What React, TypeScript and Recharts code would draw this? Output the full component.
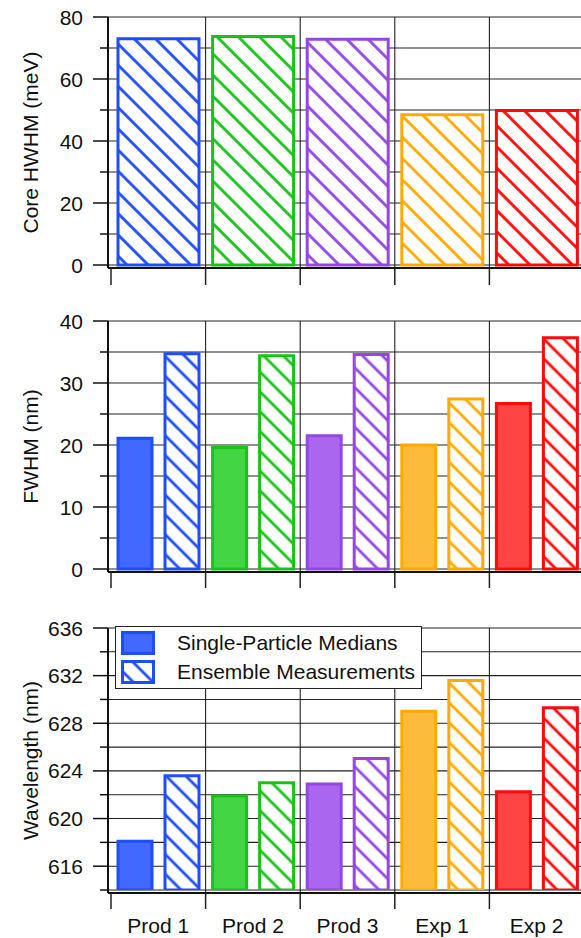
import { BarChart, Bar, Cell, XAxis, YAxis, CartesianGrid, Legend } from "recharts";

const categories = ["Prod 1", "Prod 2", "Prod 3", "Exp 1", "Exp 2"];
const seriesNames = ["Single-Particle Medians", "Ensemble Measurements"];

// core HWHM is only measured on the ensembles
const coreHwhm = [73.0, 73.7, 72.8, 48.5, 49.8];
const fwhmSingle = [21.1, 19.6, 21.5, 20.0, 26.7];
const fwhmEnsemble = [34.7, 34.4, 34.6, 27.4, 37.3];
const wavelengthSingle = [618.1, 621.9, 622.9, 629.0, 622.25];
const wavelengthEnsemble = [623.6, 623.0, 625.05, 631.6, 629.3];

const coreTicks = [0, 10, 20, 30, 40, 50, 60, 70, 80];
const coreLabels = [0, 20, 40, 60, 80];
const fwhmTicks = [0, 5, 10, 15, 20, 25, 30, 35, 40];
const fwhmLabels = [0, 10, 20, 30, 40];
const wlTicks = [614, 616, 618, 620, 622, 624, 626, 628, 630, 632, 634, 636];
const wlLabels = [616, 620, 624, 628, 632, 636];

const solidFills = ["#4169ff", "#44d544", "#aa66ee", "#fdbb3c", "#ff4444"];
const edgeColors = ["#1e4ef7", "#18c318", "#9446e6", "#ffaa00", "#ff0a0a"];

const FONT = "'Liberation Sans', Arial, sans-serif";
const FONT_SIZE = 21;
const INK = "#111";
const PAD_LEFT = 3;

const coreData = categories.map((name, i) => ({ name, core: coreHwhm[i] }));
const fwhmData = categories.map((name, i) => ({
  name,
  single: fwhmSingle[i],
  ensemble: fwhmEnsemble[i],
}));
const wlData = categories.map((name, i) => ({
  name,
  single: wavelengthSingle[i],
  ensemble: wavelengthEnsemble[i],
}));

// vertical grid lines sit on the category boundaries, not the centres
const boundaryLines = ({ xAxis, offset }: any) => {
  const scale = xAxis?.scale;
  if (typeof scale === "function" && typeof scale.bandwidth === "function") {
    return categories.slice(1).map((c) => scale(c));
  }
  const x0 = offset.left + PAD_LEFT;
  const band = (offset.width - PAD_LEFT) / categories.length;
  return categories.slice(1).map((_, i) => x0 + (i + 1) * band);
};

const yTick = (labels: number[]) => (props: any) => {
  const { x, y, payload } = props;
  const major = labels.includes(payload.value);
  return (
    <g>
      <line x1={x - (major ? 15 : 8)} x2={x} y1={y} y2={y} stroke={INK} strokeWidth={1.5} />
      {major && (
        <text
          x={x - 25}
          y={y}
          dy="0.36em"
          textAnchor="end"
          fontSize={FONT_SIZE}
          fill={INK}
          fontFamily={FONT}
        >
          {payload.value}
        </text>
      )}
    </g>
  );
};

const xTick = (len: number, showLabel: boolean) => (props: any) => {
  const { x, y, payload } = props;
  const edge = x - (payload.offset ?? 0);
  return (
    <g>
      <line x1={edge} x2={edge} y1={y} y2={y + len} stroke="#222" strokeWidth={1.5} />
      {showLabel && (
        <text x={x} y={y + 40} textAnchor="middle" fontSize={FONT_SIZE} fill={INK} fontFamily={FONT}>
          {payload.value}
        </text>
      )}
    </g>
  );
};

const hatchDefs = (prefix: string, size: number) => (
  <defs>
    {edgeColors.map((c, i) => (
      <pattern
        key={i}
        id={`${prefix}-${i}`}
        patternUnits="userSpaceOnUse"
        width={size}
        height={size}
        patternTransform="rotate(-45)"
      >
        <rect width={size} height={size} fill="#fff" />
        <line x1={size / 2} y1={0} x2={size / 2} y2={size} stroke={c} strokeWidth={2.8} />
      </pattern>
    ))}
  </defs>
);

const yLabel = (value: string) => ({
  value,
  angle: -90,
  position: "insideLeft" as const,
  offset: 31,
  style: { textAnchor: "middle" as const, fontSize: FONT_SIZE, fill: INK, fontFamily: FONT },
});

const axisStyle = { stroke: INK, strokeWidth: 2 };

// legend keeps the series order (solid first, hatched second)
const LegendBox = () => (
  <div
    style={{
      position: "relative",
      boxSizing: "border-box",
      width: 307,
      height: 63,
      border: "1.5px solid #222",
      background: "#fff",
      fontFamily: FONT,
      fontSize: FONT_SIZE,
      color: INK,
    }}
  >
    {seriesNames.map((name, i) => (
      <div
        key={name}
        style={{ position: "absolute", left: 5, top: 5 + i * 29, height: 22, display: "flex", alignItems: "center" }}
      >
        <svg width={34} height={24} style={{ display: "block" }}>
          <defs>
            <pattern
              id="legend-hatch"
              patternUnits="userSpaceOnUse"
              width={14}
              height={14}
              patternTransform="rotate(-45)"
            >
              <rect width={14} height={14} fill="#fff" />
              <line x1={7} y1={0} x2={7} y2={14} stroke={edgeColors[0]} strokeWidth={2.8} />
            </pattern>
          </defs>
          <rect
            x={1.5}
            y={1.5}
            width={31}
            height={21}
            fill={i === 0 ? solidFills[0] : "url(#legend-hatch)"}
            stroke={edgeColors[0]}
            strokeWidth={3}
          />
        </svg>
        <span style={{ marginLeft: 22, whiteSpace: "nowrap", lineHeight: "22px" }}>{name}</span>
      </div>
    ))}
  </div>
);

export default function App() {
  return (
    <div
      style={{
        position: "absolute",
        left: 0,
        top: 0,
        width: 581,
        height: 938,
        overflow: "hidden",
        background: "#fff",
      }}
    >
      {/* core HWHM */}
      <div style={{ position: "absolute", left: 0, top: 0 }}>
        <BarChart
          width={584}
          height={288}
          data={coreData}
          margin={{ top: 17, right: 0, bottom: 0, left: 0 }}
          barCategoryGap={7}
        >
          {hatchDefs("hatch-core", 15)}
          <CartesianGrid stroke="#222" strokeWidth={1.1} verticalCoordinatesGenerator={boundaryLines} />
          <XAxis
            dataKey="name"
            height={20}
            padding={{ left: PAD_LEFT, right: 0 }}
            tickSize={0}
            tickMargin={0}
            tickLine={false}
            interval={0}
            axisLine={axisStyle}
            tick={xTick(17, false)}
          />
          <YAxis
            width={108}
            domain={[0, 80]}
            ticks={coreTicks}
            interval={0}
            padding={{ top: 0, bottom: 3 }}
            tickSize={0}
            tickMargin={0}
            tickLine={false}
            axisLine={axisStyle}
            tick={yTick(coreLabels)}
            label={yLabel("Core HWHM (meV)")}
          />
          <Bar dataKey="core" name={seriesNames[1]} isAnimationActive={false}>
            {categories.map((c, i) => (
              <Cell key={c} fill={`url(#hatch-core-${i})`} stroke={edgeColors[i]} strokeWidth={3} />
            ))}
          </Bar>
        </BarChart>
      </div>

      {/* FWHM */}
      <div style={{ position: "absolute", left: 0, top: 300 }}>
        <BarChart
          width={584}
          height={292}
          data={fwhmData}
          margin={{ top: 21, right: 0, bottom: 0, left: 0 }}
          barCategoryGap={7}
          barGap={13}
        >
          {hatchDefs("hatch-fwhm", 14)}
          <CartesianGrid stroke="#222" strokeWidth={1.1} verticalCoordinatesGenerator={boundaryLines} />
          <XAxis
            dataKey="name"
            height={20}
            padding={{ left: PAD_LEFT, right: 0 }}
            tickSize={0}
            tickMargin={0}
            tickLine={false}
            interval={0}
            axisLine={axisStyle}
            tick={xTick(16, false)}
          />
          <YAxis
            width={108}
            domain={[0, 40]}
            ticks={fwhmTicks}
            interval={0}
            padding={{ top: 0, bottom: 3 }}
            tickSize={0}
            tickMargin={0}
            tickLine={false}
            axisLine={axisStyle}
            tick={yTick(fwhmLabels)}
            label={yLabel("FWHM (nm)")}
          />
          <Bar dataKey="single" name={seriesNames[0]} isAnimationActive={false}>
            {categories.map((c, i) => (
              <Cell key={c} fill={solidFills[i]} stroke={edgeColors[i]} strokeWidth={3} />
            ))}
          </Bar>
          <Bar dataKey="ensemble" name={seriesNames[1]} isAnimationActive={false}>
            {categories.map((c, i) => (
              <Cell key={c} fill={`url(#hatch-fwhm-${i})`} stroke={edgeColors[i]} strokeWidth={3} />
            ))}
          </Bar>
        </BarChart>
      </div>

      {/* peak wavelength */}
      <div style={{ position: "absolute", left: 0, top: 600 }}>
        <BarChart
          width={584}
          height={338}
          data={wlData}
          margin={{ top: 28, right: 0, bottom: 0, left: 0 }}
          barCategoryGap={7}
          barGap={13}
        >
          {hatchDefs("hatch-wl", 14)}
          <CartesianGrid stroke="#222" strokeWidth={1.1} verticalCoordinatesGenerator={boundaryLines} />
          <XAxis
            dataKey="name"
            height={45}
            padding={{ left: PAD_LEFT, right: 0 }}
            tickSize={0}
            tickMargin={0}
            tickLine={false}
            interval={0}
            axisLine={axisStyle}
            tick={xTick(16, true)}
          />
          <YAxis
            width={108}
            domain={[614, 636]}
            allowDataOverflow
            ticks={wlTicks}
            interval={0}
            padding={{ top: 0, bottom: 3 }}
            tickSize={0}
            tickMargin={0}
            tickLine={false}
            axisLine={axisStyle}
            tick={yTick(wlLabels)}
            label={yLabel("Wavelength (nm)")}
          />
          <Bar dataKey="single" name={seriesNames[0]} fill={solidFills[0]} isAnimationActive={false}>
            {categories.map((c, i) => (
              <Cell key={c} fill={solidFills[i]} stroke={edgeColors[i]} strokeWidth={3} />
            ))}
          </Bar>
          <Bar dataKey="ensemble" name={seriesNames[1]} fill={edgeColors[0]} isAnimationActive={false}>
            {categories.map((c, i) => (
              <Cell key={c} fill={`url(#hatch-wl-${i})`} stroke={edgeColors[i]} strokeWidth={3} />
            ))}
          </Bar>
          <Legend
            layout="horizontal"
            verticalAlign="middle"
            align="center"
            content={<LegendBox />}
            wrapperStyle={{ left: 115, top: 26, width: 307, height: 63 }}
          />
        </BarChart>
      </div>
    </div>
  );
}
